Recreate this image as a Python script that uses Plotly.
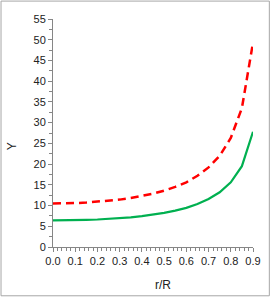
import plotly.graph_objects as go

r_values = [0.0, 0.05, 0.1, 0.15, 0.2, 0.25, 0.3, 0.35, 0.4, 0.45, 0.5,
            0.55, 0.6, 0.65, 0.7, 0.75, 0.8, 0.85, 0.9]
y_red = [10.5, 10.51, 10.6, 10.72, 10.9, 11.13, 11.43, 11.8, 12.28, 12.86, 13.6,
         14.5, 15.6, 17.2, 19.2, 22.0, 26.3, 33.5, 49.3]
y_green = [6.4, 6.41, 6.46, 6.53, 6.63, 6.77, 6.95, 7.17, 7.45, 7.79, 8.23,
           8.77, 9.45, 10.37, 11.6, 13.2, 15.6, 19.5, 27.8]
x_ticks = [0.0, 0.1, 0.2, 0.3, 0.4, 0.5, 0.6, 0.7, 0.8, 0.9]
x_tick_labels = ["0.0", "0.1", "0.2", "0.3", "0.4", "0.5", "0.6", "0.7", "0.8", "0.9"]
y_ticks = list(range(0, 60, 5))

W, H = 273, 298
L, R, T, B = 53, 18, 18.5, 50.5
pw, ph = W - L - R, H - T - B

fig = go.Figure()
fig.add_trace(go.Scatter(x=r_values, y=y_red, mode="lines",
                         line=dict(color="#FF0000", width=2.5, dash="8px,5px"),
                         showlegend=False))
fig.add_trace(go.Scatter(x=r_values, y=y_green, mode="lines",
                         line=dict(color="#00B050", width=2.2),
                         showlegend=False))

font = dict(family="Liberation Sans, Arial", size=11, color="#222222")
title_font = dict(family="Liberation Sans, Arial", size=12, color="#222222")
axis_common = dict(showgrid=False, zeroline=False, showline=True,
                   linecolor="#868686", linewidth=1, ticks="outside",
                   tickcolor="#868686", ticklen=4, tickwidth=1,
                   tickfont=font)

fig.update_xaxes(range=[0, 0.9], tickvals=x_ticks, ticktext=x_tick_labels,
                 minor=dict(dtick=0.02, ticks="outside", ticklen=3, tickcolor="#868686"),
                 **axis_common)
fig.update_yaxes(range=[0, 55], tickvals=y_ticks,
                 minor=dict(dtick=2.5, ticks="outside", ticklen=3, tickcolor="#868686"),
                 **axis_common)

# axis titles placed as in the reference
fig.add_annotation(text="r/R", xref="paper", yref="paper",
                   x=(164 - L) / pw, y=(H - B - 286) / ph,
                   showarrow=False, font=title_font, xanchor="center", yanchor="middle")
fig.add_annotation(text="Y", xref="paper", yref="paper",
                   x=(12 - L) / pw, y=(H - B - 146) / ph, textangle=-90,
                   showarrow=False, font=title_font, xanchor="center", yanchor="middle")

# chart border
fig.add_shape(type="rect", xref="paper", yref="paper",
              x0=(0.5 - L) / pw, x1=(W - 1.5 - L) / pw,
              y0=(H - B - (H - 1.5)) / ph, y1=(H - B - 0.5) / ph,
              line=dict(color="#A6A6A6", width=1), layer="below")

fig.update_layout(width=W, height=H, margin=dict(l=L, r=R, t=T, b=B),
                  paper_bgcolor="white", plot_bgcolor="white")

fig.write_html("out.html", config={"displayModeBar": False},
               post_script="document.body.style.margin='0';")
